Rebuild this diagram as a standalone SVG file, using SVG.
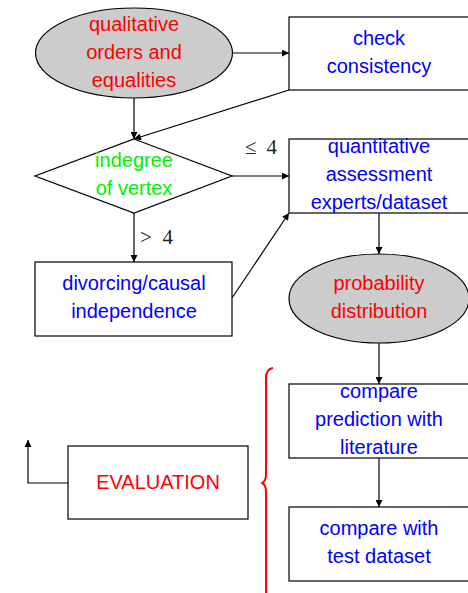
<svg xmlns="http://www.w3.org/2000/svg" width="468" height="593" viewBox="0 0 468 593">
<defs>
<marker id="ah" viewBox="0 0 10 10" refX="10" refY="5" markerWidth="9" markerHeight="7" markerUnits="userSpaceOnUse" orient="auto">
<path d="M0,0 L10,5 L0,10 z" fill="#000"/>
</marker>
<style>
.sh{stroke:#000;stroke-width:1.2;fill:#fff}
.el{stroke:#000;stroke-width:1.2;fill:#cccccc}
.t{font-family:"Liberation Sans",Arial,sans-serif;font-size:20px;text-anchor:middle}
.r{fill:#ff0000}.b{fill:#0000ff}.g{fill:#00f000}
.m{font-family:"Liberation Serif","DejaVu Serif",serif;font-size:21px;fill:#222}
.c{stroke:#000;stroke-width:1.2;fill:none}
</style>
</defs>
<g id="connectors">
<line class="c" x1="232" y1="53" x2="289" y2="53" marker-end="url(#ah)"/>
<line class="c" x1="134" y1="98" x2="134" y2="139" marker-end="url(#ah)"/>
<line class="c" x1="289" y1="90" x2="134" y2="139" marker-end="url(#ah)"/>
<line class="c" x1="232" y1="176" x2="289" y2="176" marker-end="url(#ah)"/>
<line class="c" x1="134" y1="213" x2="134" y2="262" marker-end="url(#ah)"/>
<line class="c" x1="232" y1="298" x2="289" y2="213" marker-end="url(#ah)"/>
<line class="c" x1="379" y1="213" x2="379" y2="254" marker-end="url(#ah)"/>
<line class="c" x1="379" y1="343" x2="379" y2="384" marker-end="url(#ah)"/>
<line class="c" x1="379" y1="458" x2="379" y2="507" marker-end="url(#ah)"/>
<polyline class="c" points="68,483 28,483 28,440" marker-end="url(#ah)"/>
<text class="m" x="245" y="154" textLength="32">≤ 4</text>
<text class="m" x="140" y="244" textLength="33">&gt; 4</text>
</g>
<g id="qualitative">
<ellipse class="el" cx="134" cy="53" rx="98.5" ry="45"/>
<text class="t r" x="134" y="31">qualitative</text>
<text class="t r" x="134" y="59">orders and</text>
<text class="t r" x="134" y="87">equalities</text>
</g>
<g id="check">
<rect class="sh" x="289" y="17" width="180" height="73"/>
<text class="t b" x="379" y="45">check</text>
<text class="t b" x="379" y="73">consistency</text>
</g>
<g id="indegree">
<polygon class="sh" points="134,139 232,176 134,213 35,176"/>
<text class="t g" x="134" y="167">indegree</text>
<text class="t g" x="134" y="195">of vertex</text>
</g>
<g id="quantitative">
<rect class="sh" x="289" y="139" width="180" height="74"/>
<text class="t b" x="379" y="153">quantitative</text>
<text class="t b" x="379" y="181">assessment</text>
<text class="t b" x="379" y="209">experts/dataset</text>
</g>
<g id="divorcing">
<rect class="sh" x="35" y="262" width="197" height="74"/>
<text class="t b" x="134" y="290">divorcing/causal</text>
<text class="t b" x="134" y="318">independence</text>
</g>
<g id="probability">
<ellipse class="el" cx="379" cy="298.5" rx="90" ry="44.5"/>
<text class="t r" x="379" y="290">probability</text>
<text class="t r" x="379" y="318">distribution</text>
</g>
<g id="literature">
<rect class="sh" x="289" y="384" width="180" height="74"/>
<text class="t b" x="379" y="398">compare</text>
<text class="t b" x="379" y="426">prediction with</text>
<text class="t b" x="379" y="454">literature</text>
</g>
<g id="testdata">
<rect class="sh" x="289" y="507" width="180" height="74"/>
<text class="t b" x="379" y="535">compare with</text>
<text class="t b" x="379" y="563">test dataset</text>
</g>
<g id="evaluation">
<rect class="sh" x="68" y="446" width="180" height="73"/>
<text class="t r" x="158" y="489">EVALUATION</text>
</g>
<g id="brace">
<path d="M273 368 Q266 369 266 378 L266 474 Q266 482 261.5 483 Q266 484 266 492 L266 596" fill="none" stroke="#ff0000" stroke-width="2"/>
</g>
</svg>
